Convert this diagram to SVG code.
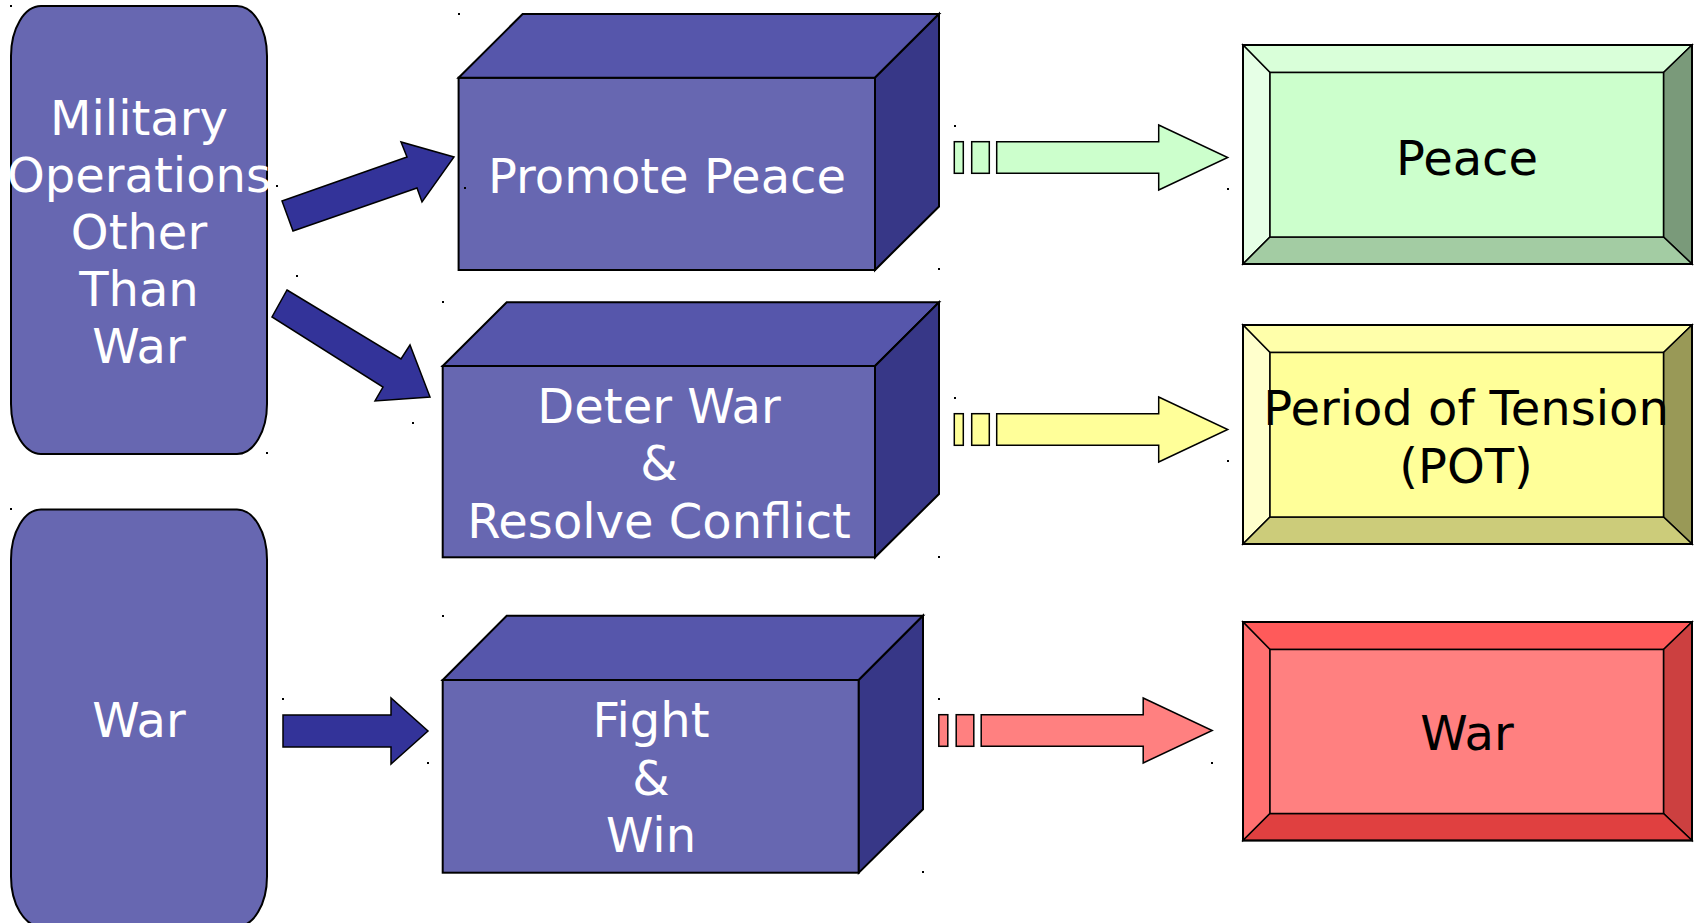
<svg xmlns="http://www.w3.org/2000/svg" width="1698" height="923" viewBox="0 0 1698 923">
<style>
.t{font-family:"DejaVu Sans","Verdana","Liberation Sans",sans-serif;font-size:48px;text-anchor:middle}
.w{fill:#ffffff}
.k{fill:#000000}
.ln{stroke:#000;stroke-width:2;stroke-linejoin:miter}
.thin{stroke:#000;stroke-width:1.5;stroke-linejoin:miter}
.oval{fill:#6767b1;stroke:#000;stroke-width:2}
.front{fill:#6767b1}
.top{fill:#5656ab}
.side{fill:#373787}
.ba{fill:#333399;stroke:#000;stroke-width:1.5;stroke-linejoin:miter}
.dot{fill:#000}
</style>
<rect width="1698" height="923" fill="#ffffff"/>

<g id="mootw">
<rect class="oval" x="11" y="6" width="256" height="448" rx="30" ry="50"/>
<text class="t w" x="139" y="135">Military</text>
<text class="t w" x="139" y="192">Operations</text>
<text class="t w" x="139" y="249">Other</text>
<text class="t w" x="139" y="306">Than</text>
<text class="t w" x="139" y="363">War</text>
</g>

<g id="war-left">
<rect class="oval" x="11" y="509.5" width="256" height="417" rx="30" ry="50"/>
<text class="t w" x="139" y="737">War</text>
</g>

<g id="promote-peace">
<rect class="front ln" x="458.6" y="77.7" width="416.4" height="192.3"/>
<polygon class="top ln" points="458.6,77.7 522.6,14 939,14 875,77.7"/>
<polygon class="side ln" points="875,77.7 939,14 939,206.5 875,270"/>
<text class="t w" x="667" y="193">Promote Peace</text>
</g>

<g id="deter-war">
<rect class="front ln" x="442.7" y="366" width="432.3" height="191.3"/>
<polygon class="top ln" points="442.7,366 506.7,302.3 939,302.3 875,366"/>
<polygon class="side ln" points="875,366 939,302.3 939,494 875,557.3"/>
<text class="t w" x="659" y="423">Deter War</text>
<text class="t w" x="659" y="480">&amp;</text>
<text class="t w" x="659" y="538">Resolve Conflict</text>
</g>

<g id="fight-win">
<rect class="front ln" x="442.7" y="680" width="416.1" height="192.7"/>
<polygon class="top ln" points="442.7,680 506.7,615.7 923,615.7 858.8,680"/>
<polygon class="side ln" points="858.8,680 923,615.7 923,809.3 858.8,872.7"/>
<text class="t w" x="651" y="737">Fight</text>
<text class="t w" x="651" y="795">&amp;</text>
<text class="t w" x="651" y="852">Win</text>
</g>

<g id="peace">
<polygon class="thin" fill="#d9ffd9" points="1243,45 1692,45 1663.5,72.5 1270,72.5"/>
<polygon class="thin" fill="#e6ffe6" points="1243,45 1270,72.5 1270,237 1243,264"/>
<polygon class="thin" fill="#7a9a7a" points="1692,45 1692,264 1663.5,237 1663.5,72.5"/>
<polygon class="thin" fill="#a3cca3" points="1243,264 1270,237 1663.5,237 1692,264"/>
<rect class="thin" fill="#ccffcc" x="1270" y="72.5" width="393.5" height="164.5"/>
<rect x="1243" y="45" width="449" height="219" fill="none" stroke="#000" stroke-width="2"/>
<text class="t k" x="1467" y="175">Peace</text>
</g>

<g id="pot">
<polygon class="thin" fill="#ffffaa" points="1243,325 1692,325 1663.5,352.5 1270,352.5"/>
<polygon class="thin" fill="#ffffcc" points="1243,325 1270,352.5 1270,517 1243,544"/>
<polygon class="thin" fill="#999957" points="1692,325 1692,544 1663.5,517 1663.5,352.5"/>
<polygon class="thin" fill="#cccc7a" points="1243,544 1270,517 1663.5,517 1692,544"/>
<rect class="thin" fill="#ffff99" x="1270" y="352.5" width="393.5" height="164.5"/>
<rect x="1243" y="325" width="449" height="219" fill="none" stroke="#000" stroke-width="2"/>
<text class="t k" x="1466" y="425">Period of Tension</text>
<text class="t k" x="1466" y="483">(POT)</text>
</g>

<g id="war-right">
<polygon class="thin" fill="#ff5a5a" points="1243,622 1692,622 1663.5,649.5 1270,649.5"/>
<polygon class="thin" fill="#ff7070" points="1243,622 1270,649.5 1270,813.5 1243,840.5"/>
<polygon class="thin" fill="#cc4040" points="1692,622 1692,840.5 1663.5,813.5 1663.5,649.5"/>
<polygon class="thin" fill="#e04040" points="1243,840.5 1270,813.5 1663.5,813.5 1692,840.5"/>
<rect class="thin" fill="#ff8080" x="1270" y="649.5" width="393.5" height="164"/>
<rect x="1243" y="622" width="449" height="218.5" fill="none" stroke="#000" stroke-width="2"/>
<text class="t k" x="1467" y="750">War</text>
</g>

<g id="connectors">
<polygon class="ba" points="282,201 407,157 401,142 454,157 422,202 417,188 293,231"/>
<polygon class="ba" points="287,290 401,359 410,345 430,397 375,401 383,387 272,317"/>
<polygon class="ba" points="283,715 391,715 391,698 428,731 391,764 391,747 283,747"/>
<g fill="#ccffcc" class="thin">
<rect x="954.3" y="141.7" width="9" height="31.6"/>
<rect x="971.7" y="141.7" width="17.6" height="31.6"/>
<polygon points="996.7,141.7 1158.7,141.7 1158.7,125 1227.7,157.5 1158.7,190 1158.7,173.3 996.7,173.3"/>
</g>
<g fill="#ffff99" class="thin" transform="translate(0,272)">
<rect x="954.3" y="141.7" width="9" height="31.6"/>
<rect x="971.7" y="141.7" width="17.6" height="31.6"/>
<polygon points="996.7,141.7 1158.7,141.7 1158.7,125 1227.7,157.5 1158.7,190 1158.7,173.3 996.7,173.3"/>
</g>
<g fill="#ff8080" class="thin" transform="translate(-15.5,573)">
<rect x="954.3" y="141.7" width="9" height="31.6"/>
<rect x="971.7" y="141.7" width="17.6" height="31.6"/>
<polygon points="996.7,141.7 1158.7,141.7 1158.7,125 1227.7,157.5 1158.7,190 1158.7,173.3 996.7,173.3"/>
</g>
</g>

<g id="marks" class="dot">
<rect x="10" y="5" width="2" height="2"/>
<rect x="458" y="13" width="2" height="2"/>
<rect x="276" y="185" width="2" height="2"/>
<rect x="464" y="187" width="2" height="2"/>
<rect x="296" y="275" width="2" height="2"/>
<rect x="442" y="301" width="2" height="2"/>
<rect x="412" y="422" width="2" height="2"/>
<rect x="266" y="452" width="2" height="2"/>
<rect x="954" y="125" width="2" height="2"/>
<rect x="938" y="268" width="2" height="2"/>
<rect x="1227" y="188" width="2" height="2"/>
<rect x="10" y="508" width="2" height="2"/>
<rect x="282" y="698" width="2" height="2"/>
<rect x="427" y="762" width="2" height="2"/>
<rect x="442" y="615" width="2" height="2"/>
<rect x="954" y="397" width="2" height="2"/>
<rect x="938" y="556" width="2" height="2"/>
<rect x="1227" y="460" width="2" height="2"/>
<rect x="938" y="698" width="2" height="2"/>
<rect x="922" y="871" width="2" height="2"/>
<rect x="1211" y="762" width="2" height="2"/>
</g>
</svg>
